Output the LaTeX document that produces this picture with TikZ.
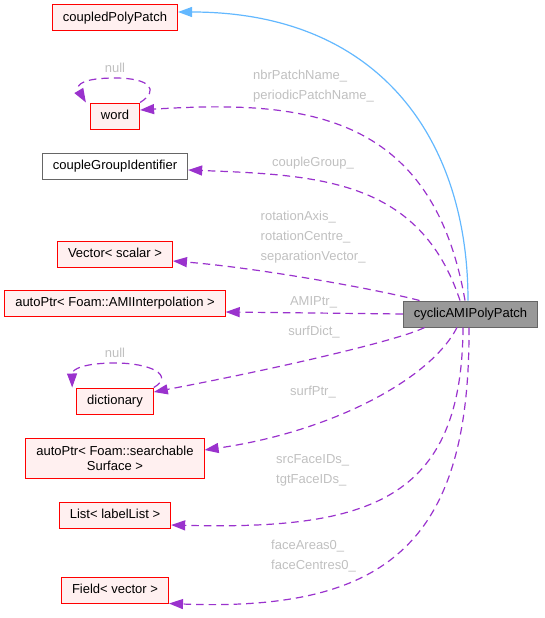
\documentclass[tikz,border=0pt]{standalone}
\usepackage{fontspec}
\setmainfont{Liberation Sans}
\usetikzlibrary{arrows.meta}
\definecolor{edgepurple}{HTML}{9A32CD}
\definecolor{edgeblue}{HTML}{63B8FF}
\definecolor{redfill}{HTML}{FFF0F0}
\definecolor{labelgray}{HTML}{C0C0C0}
\definecolor{grayforty}{HTML}{666666}
\definecolor{graysixty}{HTML}{999999}
\tikzset{
  cls/.style={draw=red, fill=redfill, line width=1pt, inner xsep=10.5pt, inner ysep=0pt,
    minimum height=26pt, text height=9.5pt, text depth=2.7pt, font=\fontsize{13}{15}\selectfont},
  member/.style={edgepurple, line width=1.2pt, dash pattern=on 7.5pt off 5pt,
    -{Triangle[length=14pt,width=10pt]}},
  inherit/.style={edgeblue, line width=1.2pt, -{Triangle[length=14pt,width=10pt]}},
  lbl/.style={labelgray, font=\fontsize{13}{20}\selectfont, inner sep=0pt, align=left},
}
\begin{document}
\begin{tikzpicture}[x=1pt, y=-1pt] % pixel coordinates, y downwards
  \useasboundingbox (0,0) rectangle (544,618);

  % Classes on the left
  \node[cls] (coupled) at (115,18) {coupledPolyPatch};
  \node[cls] (word) at (115,116) {word};
  \node[cls, draw=grayforty, fill=white] (group) at (115,166) {coupleGroupIdentifier};
  \node[cls] (vecscalar) at (115,254) {Vector< scalar >};
  \node[cls] (amiptr) at (115,303) {autoPtr< Foam::AMIInterpolation >};
  \node[cls] (dict) at (115,401) {dictionary};
  \node[cls, align=center, text height=, text depth=, minimum height=40pt] (surfptr)
    at (115,458) {autoPtr< Foam::searchable\\Surface >};
  \node[cls] (labellist) at (115,515) {List< labelList >};
  \node[cls] (field) at (115,590) {Field< vector >};

  % The class itself
  \node[cls, draw=grayforty, fill=graysixty] (cyclic) at (470.5,314) {cyclicAMIPolyPatch};

  % Base class
  \draw[inherit] ([xshift=-2.5pt]cyclic.north) .. controls (468,140) and (380,12)
    .. ([yshift=6pt]coupled.east);

  % Members
  \draw[member] ([xshift=-5.5pt]cyclic.north) .. controls (432,110) and (300,100)
    .. ([yshift=6pt]word.east);
  \draw[member] ([xshift=-10.5pt]cyclic.north) .. controls (420,180) and (320,175)
    .. ([yshift=-4pt]group.east);
  \draw[member] ([xshift=-51pt]cyclic.north) .. controls (380,290) and (260,268)
    .. ([yshift=-7pt]vecscalar.east);
  \draw[member] (cyclic.west) -- ([yshift=-9pt]amiptr.east);
  \draw[member] ([xshift=-46pt]cyclic.south) .. controls (400,340) and (280,368)
    .. ([yshift=9pt]dict.east);
  \draw[member] ([xshift=-13.5pt]cyclic.south) .. controls (430,380) and (330,432)
    .. ([yshift=8pt]surfptr.east);
  \draw[member] ([xshift=-7.5pt]cyclic.south) .. controls (462,500) and (370,530)
    .. ([yshift=-10pt]labellist.east);
  \draw[member] ([xshift=-1.5pt]cyclic.south) .. controls (470,540) and (390,612)
    .. (field.south east);

  % Self references
  \draw[member] (word.north east) .. controls (160,90) and (150,78) .. (115,78)
    .. controls (85,78) and (75,84) .. ([xshift=-4pt]word.north west);
  \draw[member] (dict.north east) .. controls (175,375) and (150,363) .. (115,363)
    .. controls (85,363) and (72,369) .. ([xshift=-4pt]dict.north west);

  % Edge labels
  \node[lbl] (nullword) at (115,68) {null};
  \node[lbl] (nulldict) at (115,353) {null};
  \node[lbl, anchor=west] (lblword) at (253,86) {nbrPatchName\_\\periodicPatchName\_};
  \node[lbl] (lblgroup) at (313,163) {coupleGroup\_};
  \node[lbl, anchor=west] (lblvec) at (260.5,237.5) {rotationAxis\_\\rotationCentre\_\\separationVector\_};
  \node[lbl] (lblami) at (313.5,302) {AMIPtr\_};
  \node[lbl] (lbldict) at (314,332) {surfDict\_};
  \node[lbl] (lblsurf) at (313,392) {surfPtr\_};
  \node[lbl, anchor=west] (lbllist) at (276,470.5) {srcFaceIDs\_\\tgtFaceIDs\_};
  \node[lbl, anchor=west] (lblfield) at (271,556) {faceAreas0\_\\faceCentres0\_};
\end{tikzpicture}
\end{document}
